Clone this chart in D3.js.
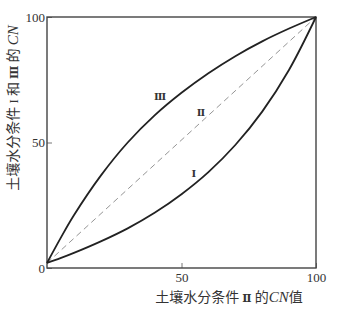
<!DOCTYPE html>
<html>
<head>
<meta charset="utf-8">
<script src="https://cdn.jsdelivr.net/npm/d3@7"></script>
<style>
  body { margin: 0; background: #fff; }
  svg text { fill: #333; }
</style>
</head>
<body>
<div id="chart"></div>
<script>
// data
var cnII   = [0, 5, 10, 20, 30, 40, 50, 60, 70, 80, 90, 100];
var cnIII  = [2, 11.8, 21, 36.8, 50, 60.8, 69.8, 77.6, 84.4, 90.3, 95.4, 100];
var cnI    = [2, 3.9, 6, 10.6, 15.8, 22, 29.4, 38.2, 49, 62.3, 79, 100];
var diagX  = [0, 100];
var diagY  = [2, 100];
var yTicks = [0, 50, 100];
var xTicks = [50, 100];
var curveLabels = [
  {text: "Ⅲ", x: 42, y: 68.5},
  {text: "Ⅱ", x: 57.2, y: 62},
  {text: "Ⅰ", x: 54.6, y: 37.6}
];

var svgWidth = 351;
var svgHeight = 313;
var margin = {top: 17, right: 35, bottom: 45, left: 47};
var width = 316 - margin.left;
var height = 268 - margin.top;

var svg = d3.select("#chart")
    .append("svg")
    .attr("width", svgWidth)
    .attr("height", svgHeight);

var g = svg.append("g")
    .attr("transform", `translate(${margin.left}, ${margin.top})`);

var xScale = d3.scaleLinear().domain([0, 100]).range([0, width]);
var yScale = d3.scaleLinear().domain([0, 100]).range([height, 0]);

// axes with inward ticks
var leftAxis = d3.axisLeft(yScale).tickValues(yTicks).tickSize(-5).tickPadding(2);
var bottomAxis = d3.axisBottom(xScale).tickValues(xTicks).tickSize(-5).tickPadding(5);

var ya = g.append("g").call(leftAxis);
var xa = g.append("g").attr("transform", `translate(0, ${height})`).call(bottomAxis);

[ya, xa].forEach(function (a) {
  a.select(".domain").remove();
  a.selectAll("line").attr("stroke", "#777");
  a.selectAll("text")
    .attr("font-family", "'Liberation Serif', 'DejaVu Serif', serif")
    .attr("font-size", 13)
    .attr("fill", "#333");
});

// frame
g.append("rect")
  .attr("x", 0).attr("y", 0)
  .attr("width", width).attr("height", height)
  .attr("fill", "none")
  .attr("stroke", "#444")
  .attr("stroke-width", 1.4);

var line = d3.line()
  .x(d => xScale(d[0]))
  .y(d => yScale(d[1]))
  .curve(d3.curveCatmullRom.alpha(0.5));

g.append("path")
  .datum(diagX.map((x, i) => [x, diagY[i]]))
  .attr("d", line)
  .attr("fill", "none")
  .attr("stroke", "#888")
  .attr("stroke-width", 0.9)
  .attr("stroke-dasharray", "6,4");

[cnIII, cnI].forEach(function (ys) {
  g.append("path")
    .datum(cnII.map((x, i) => [x, ys[i]]))
    .attr("d", line)
    .attr("fill", "none")
    .attr("stroke", "#222")
    .attr("stroke-width", 1.8);
});

g.selectAll(".clabel")
  .data(curveLabels)
  .enter()
  .append("text")
  .attr("class", "clabel")
  .attr("x", d => xScale(d.x))
  .attr("y", d => yScale(d.y))
  .attr("dy", "0.35em")
  .attr("text-anchor", "middle")
  .attr("font-family", "'DejaVu Serif', serif")
  .attr("font-size", 10)
  .attr("font-weight", "bold")
  .text(d => d.text);

// axis titles
var xt = svg.append("text")
  .attr("x", 229)
  .attr("y", 302)
  .attr("text-anchor", "middle")
  .attr("font-family", "'Noto Sans CJK SC', sans-serif")
  .attr("font-size", 14);
xt.append("tspan").text("土壤水分条件 ");
xt.append("tspan").attr("font-family", "'DejaVu Serif', serif").attr("font-weight", "bold").attr("font-size", 11).text("Ⅱ");
xt.append("tspan").text(" 的");
xt.append("tspan").attr("font-family", "'Liberation Serif', serif").attr("font-style", "italic").attr("font-size", 15).text("CN");
xt.append("tspan").text("值");

var yt = svg.append("text")
  .attr("transform", "translate(18, 108) rotate(-90)")
  .attr("text-anchor", "middle")
  .attr("font-family", "'Noto Sans CJK SC', sans-serif")
  .attr("font-size", 14);
yt.append("tspan").text("土壤水分条件 ");
yt.append("tspan").attr("font-family", "'Liberation Serif', serif").attr("font-size", 13).text("I");
yt.append("tspan").text(" 和 ");
yt.append("tspan").attr("font-family", "'DejaVu Serif', serif").attr("font-weight", "bold").attr("font-size", 11).text("Ⅲ");
yt.append("tspan").text(" 的 ");
yt.append("tspan").attr("font-family", "'Liberation Serif', serif").attr("font-style", "italic").attr("font-size", 15).text("CN");
</script>
</body>
</html>
